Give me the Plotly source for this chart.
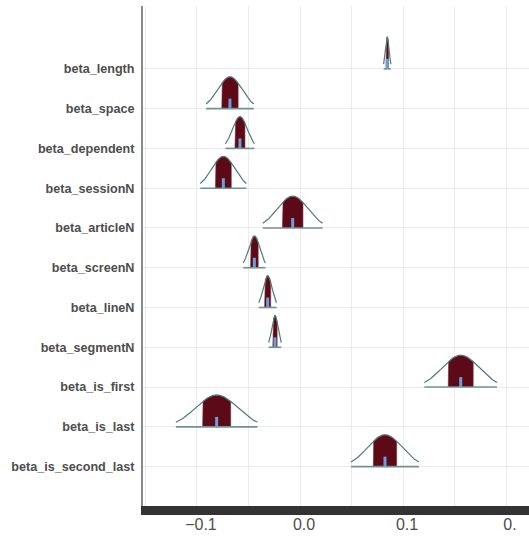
import numpy as np
import plotly.graph_objects as go

# Parameters (top to bottom as displayed)
params = ["beta_length", "beta_space", "beta_dependent", "beta_sessionN",
          "beta_articleN", "beta_screenN", "beta_lineN", "beta_segmentN",
          "beta_is_first", "beta_is_last", "beta_is_second_last"]
medians = [0.0847, -0.0680, -0.0583, -0.0744, -0.0071, -0.0443, -0.0314,
           -0.0243, 0.1560, -0.0809, 0.0825]
sds = [0.0018, 0.0118, 0.0072, 0.0114, 0.0148, 0.0055, 0.0044, 0.0031,
       0.0180, 0.0202, 0.0168]

x_tickvals = [-0.1, 0.0, 0.1, 0.2]
x_ticktext = ["\u22120.1", "0.0", "0.1", "0."]

INNER_Z = 0.674   # 50% interval
OUTER_Z = 1.96    # 95% interval
PEAK = 0.8
BAR_H = 0.25

FILL = "#5c0a17"
OUTLINE = "#4f7a78"
BASE = "#6f9190"
MED = "#6a9fd8"

fig = go.Figure()
n = len(params)
for i, (p, m, s) in enumerate(zip(params, medians, sds)):
    base = n - 1 - i
    # inner filled area
    xi = np.linspace(m - INNER_Z * s, m + INNER_Z * s, 60)
    yi = base + PEAK * np.exp(-0.5 * ((xi - m) / s) ** 2)
    fx = np.concatenate([[xi[0]], xi, [xi[-1]]])
    fy = np.concatenate([[base], yi, [base]])
    fig.add_trace(go.Scatter(x=fx, y=fy, mode="lines", fill="toself",
                             fillcolor=FILL, line=dict(color="#7a2a35", width=0.6),
                             hoverinfo="skip", showlegend=False))
    # outer outline
    xo = np.linspace(m - OUTER_Z * s, m + OUTER_Z * s, 120)
    yo = base + PEAK * np.exp(-0.5 * ((xo - m) / s) ** 2)
    fig.add_trace(go.Scatter(x=xo, y=yo, mode="lines",
                             line=dict(color=OUTLINE, width=1.2),
                             hoverinfo="skip", showlegend=False))
    # baseline
    fig.add_trace(go.Scatter(x=[xo[0], xo[-1]], y=[base, base], mode="lines",
                             line=dict(color=BASE, width=1.6),
                             hoverinfo="skip", showlegend=False))
    # median marker
    fig.add_trace(go.Scatter(x=[m, m], y=[base, base + BAR_H], mode="lines",
                             line=dict(color=MED, width=3),
                             hoverinfo="skip", showlegend=False))

fig.update_layout(
    width=529, height=538,
    margin=dict(l=143, r=0, t=6, b=32),
    plot_bgcolor="white", paper_bgcolor="white",
    font=dict(family="Liberation Sans, Arial, sans-serif"),
)
fig.update_xaxes(
    range=[-0.1524, 0.2223],
    tickvals=x_tickvals, ticktext=x_ticktext,
    tickfont=dict(size=16, color="#4d4d4d"),
    showgrid=True, gridcolor="#ebebeb", gridwidth=1,
    minor=dict(tickvals=[-0.15, -0.05, 0.05, 0.15], showgrid=True,
               gridcolor="#ebebeb", gridwidth=1),
    showline=True, linecolor="#333333", linewidth=9,
    zeroline=False, ticks="", automargin=False,
    ticklabelstandoff=-4, ticklabelshift=4,
)
fig.update_yaxes(
    range=[-0.99, 11.58],
    tickvals=list(range(n)), ticktext=[f"<b>{p}</b>" for p in params[::-1]],
    tickfont=dict(size=12.6, color="#4d4d4d"),
    showgrid=True, gridcolor="#ebebeb", gridwidth=1,
    showline=True, linecolor="#8a8a8a", linewidth=2,
    zeroline=False, ticks="outside", ticklen=4, tickcolor="rgba(0,0,0,0)",
    automargin=False,
)

fig.write_html("out.html", config={"displayModeBar": False},
               post_script="document.body.style.margin='0';document.body.style.overflow='hidden';")
